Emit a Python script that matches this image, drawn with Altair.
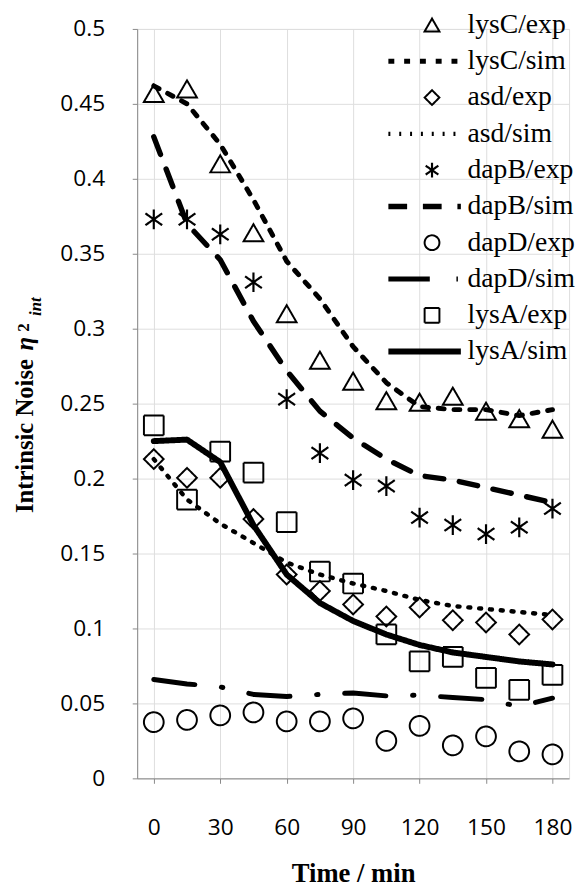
import altair as alt
import pandas as pd

# ---------------- data ----------------
times = [0, 15, 30, 45, 60, 75, 90, 105, 120, 135, 150, 165, 180]

lysC_exp = [0.457, 0.460, 0.410, 0.364, 0.310, 0.279, 0.265, 0.252, 0.251, 0.255, 0.245, 0.240, 0.233]
asd_exp = [0.213, 0.2005, 0.2005, 0.173, 0.136, 0.125, 0.116, 0.108, 0.114, 0.1055, 0.104, 0.096, 0.106]
dapB_exp = [0.373, 0.373, 0.363, 0.331, 0.253, 0.217, 0.199, 0.195, 0.174, 0.169, 0.163, 0.1675, 0.180]
dapD_exp = [0.0375, 0.039, 0.042, 0.044, 0.038, 0.038, 0.040, 0.025, 0.035, 0.022, 0.028, 0.018, 0.016]
lysA_exp = [0.2355, 0.186, 0.218, 0.204, 0.171, 0.138, 0.130, 0.096, 0.078, 0.081, 0.067, 0.059, 0.069]

lysC_sim = [0.462, 0.450, 0.423, 0.386, 0.345, 0.320, 0.288, 0.264, 0.248, 0.246, 0.246, 0.242, 0.246]
asd_sim = [0.213, 0.186, 0.170, 0.157, 0.144, 0.136, 0.130, 0.125, 0.119, 0.115, 0.113, 0.111, 0.109]
dapB_sim = [0.428, 0.370, 0.346, 0.305, 0.272, 0.245, 0.227, 0.213, 0.202, 0.199, 0.194, 0.189, 0.184]
dapD_sim = [0.066, 0.063, 0.061, 0.056, 0.0546, 0.056, 0.057, 0.055, 0.0555, 0.054, 0.0525, 0.048, 0.0535]
lysA_sim = [0.225, 0.226, 0.211, 0.169, 0.136, 0.117, 0.105, 0.096, 0.089, 0.084, 0.081, 0.078, 0.076]

series_order = ["lysC/exp", "lysC/sim", "asd/exp", "asd/sim", "dapB/exp",
                "dapB/sim", "dapD/exp", "dapD/sim", "lysA/exp", "lysA/sim"]

y_ticks = [0, 0.05, 0.1, 0.15, 0.2, 0.25, 0.3, 0.35, 0.4, 0.45, 0.5]
x_ticks = [0, 30, 60, 90, 120, 150, 180]

exp_series = {"lysC/exp": lysC_exp, "asd/exp": asd_exp, "dapB/exp": dapB_exp,
              "dapD/exp": dapD_exp, "lysA/exp": lysA_exp}
sim_series = {"lysC/sim": lysC_sim, "asd/sim": asd_sim, "dapB/sim": dapB_sim,
              "dapD/sim": dapD_sim, "lysA/sim": lysA_sim}

exp_df = pd.DataFrame([{"t": t, "v": v, "s": k} for k, vals in exp_series.items()
                       for t, v in zip(times, vals)])
sim_df = pd.DataFrame([{"t": t, "v": v, "s": k} for k, vals in sim_series.items()
                       for t, v in zip(times, vals)])

# ---------------- styles ----------------
LINE = "M-5.9,0L3.9,0"
ASTER = "M0,-1L0,1M-0.85,-0.6L0.85,0.6M-0.85,0.6L0.85,-0.6"
shapes = ["triangle-up", LINE, "diamond", LINE, ASTER, LINE, "circle", LINE, "square", LINE]
dashes = [[1, 0], [6, 10], [1, 0], [2, 9], [1, 0], [19, 16], [1, 0], [42, 27, 1.5, 27], [1, 0], [1, 0]]
widths = [2, 5, 2, 4.5, 2.2, 5.5, 2, 5, 2, 6]

leg = alt.Legend(title=None, orient="none", legendX=285, legendY=-18, columns=1,
                 direction="vertical", padding=0, symbolSize=225, labelOffset=22,
                 rowPadding=8.8, labelFont="Liberation Serif", labelFontSize=28,
                 labelColor="black", symbolStrokeColor="black", labelLimit=300)

xscale = alt.Scale(domain=[-7.5, 187.5], nice=False, zero=False)
yscale = alt.Scale(domain=[0, 0.5], nice=False)

xaxis = alt.Axis(values=x_ticks, title="Time / min", labelFont="Open Sans", labelFontSize=23,
                 labelColor="black", labelPadding=34, titleFont="Liberation Serif",
                 titleFontWeight="bold", titleFontSize=27, titleColor="black",
                 titleBaseline="top", titleY=84)
yaxis = alt.Axis(values=y_ticks, title=None, format="~g", labelFont="Open Sans", labelFontSize=23,
                 labelColor="black", labelPadding=28)

shape_enc = alt.Shape("s:N", scale=alt.Scale(domain=series_order, range=shapes), legend=leg)
dash_enc = alt.StrokeDash("s:N", scale=alt.Scale(domain=series_order, range=dashes), legend=leg)
width_enc = alt.StrokeWidth("s:N", scale=alt.Scale(type="ordinal", domain=series_order, range=widths), legend=leg)

lines = alt.Chart(sim_df).mark_line(color="black", strokeCap="round", strokeJoin="round").encode(
    x=alt.X("t:Q", scale=xscale, axis=xaxis),
    y=alt.Y("v:Q", scale=yscale, axis=yaxis),
    strokeDash=dash_enc,
    strokeWidth=width_enc,
)

points = alt.Chart(exp_df).mark_point(filled=False, size=400, color="black", opacity=1).encode(
    x=alt.X("t:Q", scale=xscale, axis=xaxis),
    y=alt.Y("v:Q", scale=yscale, axis=yaxis),
    shape=shape_enc,
    strokeDash=dash_enc,
    strokeWidth=width_enc,
)

# y-axis title built from pieces (η² with "int" subscript)
title_main = alt.Chart(pd.DataFrame({"txt": ["Intrinsic Noise"]})).mark_text(
    angle=270, align="left", baseline="alphabetic", font="Liberation Serif",
    fontWeight="bold", fontSize=25, color="black").encode(
    x=alt.value(-106), y=alt.value(491), text="txt:N")
title_eta = alt.Chart(pd.DataFrame({"txt": ["η"]})).mark_text(
    angle=270, align="left", baseline="alphabetic", font="Liberation Serif",
    fontWeight="bold", fontStyle="italic", fontSize=25, color="black").encode(
    x=alt.value(-106), y=alt.value(326), text="txt:N")
title_sup = alt.Chart(pd.DataFrame({"txt": ["2"]})).mark_text(
    angle=270, align="left", baseline="alphabetic", font="Liberation Serif",
    fontWeight="bold", fontSize=17, color="black").encode(
    x=alt.value(-109.5), y=alt.value(307), text="txt:N")
title_sub = alt.Chart(pd.DataFrame({"txt": ["int"]})).mark_text(
    angle=270, align="left", baseline="alphabetic", font="Liberation Serif",
    fontWeight="bold", fontStyle="italic", fontSize=17, color="black").encode(
    x=alt.value(-98), y=alt.value(291), text="txt:N")

chart = alt.layer(lines, points, title_main, title_eta, title_sup, title_sub).properties(
    width=438, height=760,
    autosize=alt.AutoSizeParams(type="none"),
    padding={"left": 131, "top": 15, "right": 6, "bottom": 108},
).configure_view(stroke=None).configure_axis(
    domain=False, ticks=False, grid=False
).configure(background="white")

chart.save("out.html", embed_options={"renderer": "svg", "actions": False})
